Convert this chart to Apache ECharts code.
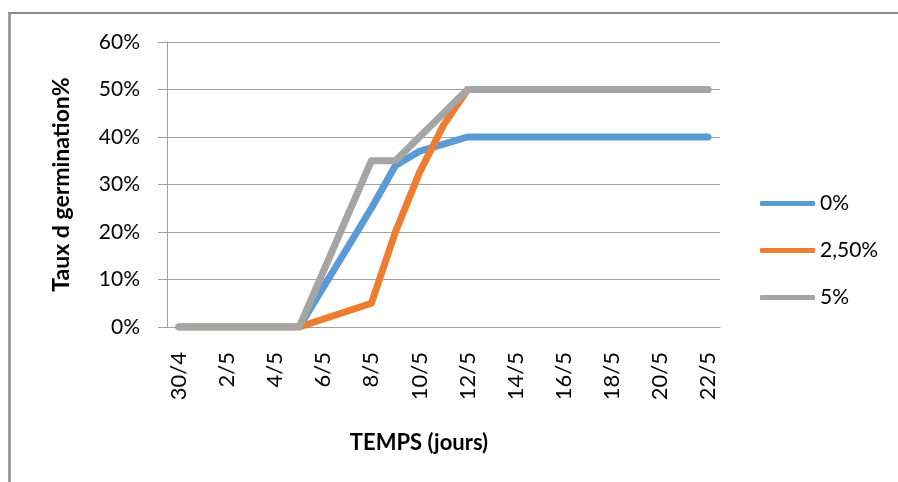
<!DOCTYPE html>
<html>
<head>
<meta charset="utf-8">
<script src="https://cdn.jsdelivr.net/npm/echarts@6/dist/echarts.min.js"></script>
<style>
html,body{margin:0;padding:0;background:#fff;}
#c{width:898px;height:482px;}
</style>
</head>
<body>
<div id="c"></div>
<script>
// Categories: daily dates from 30/4 to 22/5
const categories = ['30/4','1/5','2/5','3/5','4/5','5/5','6/5','7/5','8/5','9/5','10/5','11/5','12/5','13/5','14/5','15/5','16/5','17/5','18/5','19/5','20/5','21/5','22/5'];
const seriesNames = ['0%', '2,50%', '5%'];
// germination rate (fraction) — null = no reading that day
const s0 = [0, null, null, null, null, 0, null, null, 0.25, 0.34, 0.37, 0.385, 0.40, null, null, null, null, null, null, null, null, null, 0.40];
const s25 = [0, null, null, null, null, 0, null, null, 0.05, 0.20, 0.325, 0.425, 0.50, null, null, null, null, null, null, null, null, null, 0.50];
const s5 = [0, null, null, null, null, 0, null, null, 0.35, 0.35, null, null, 0.50, null, null, null, null, null, null, null, null, null, 0.50];
const yTicks = [0, 0.1, 0.2, 0.3, 0.4, 0.5, 0.6];
const colors = ['#5b9bd5', '#ed7d31', '#a5a5a5'];
const FONT = 'Lato';

const chart = echarts.init(document.getElementById('c'), null, {renderer: 'canvas'});
const mk = (name, data, color) => ({
  name, type: 'line', data, connectNulls: true, showSymbol: false, symbol: 'none',
  lineStyle: {color, width: 7, cap: 'round', join: 'round'},
  itemStyle: {color}, animation: false
});
chart.setOption({
  animation: false,
  backgroundColor: '#fff',
  textStyle: {fontFamily: FONT},
  title: {
    text: 'TEMPS (jours)', left: 414, top: 427, textAlign: 'center',
    textStyle: {fontFamily: FONT, fontWeight: 'bold', fontSize: 22, color: '#000'}
  },
  graphic: [
    {type: 'line', shape: {x1: 8, y1: 13, x2: 898, y2: 13}, style: {stroke: '#8c8c8c', lineWidth: 2}},
    {type: 'line', shape: {x1: 9.5, y1: 12, x2: 9.5, y2: 482}, style: {stroke: '#8c8c8c', lineWidth: 2.5}}
  ],
  grid: {left: 167, right: 178, top: 42, bottom: 155, containLabel: false},
  legend: {
    orient: 'vertical', left: 760, top: 193, itemGap: 26, padding: 0,
    itemWidth: 55, itemHeight: 5, icon: 'roundRect',
    textStyle: {fontFamily: FONT, fontSize: 21, color: '#000'},
    data: seriesNames
  },
  xAxis: {
    type: 'category', data: categories, boundaryGap: true,
    axisLine: {show: true, lineStyle: {color: '#a0a0a0', width: 1}},
    axisTick: {show: false},
    axisLabel: {interval: 1, rotate: 90, margin: 25, fontFamily: FONT, fontSize: 22, color: '#000'}
  },
  yAxis: {
    type: 'value', min: yTicks[0], max: yTicks[yTicks.length - 1], interval: 0.1,
    name: 'Taux d germination%', nameLocation: 'middle', nameGap: 94,
    nameTextStyle: {fontFamily: FONT, fontWeight: 'bold', fontSize: 23, color: '#000'},
    axisLine: {show: true, lineStyle: {color: '#a0a0a0', width: 1}},
    axisTick: {show: true, inside: false, length: 9, lineStyle: {color: '#a0a0a0'}},
    splitLine: {show: true, lineStyle: {color: '#a0a0a0', width: 1}},
    axisLabel: {margin: 27, fontFamily: FONT, fontSize: 21, color: '#000',
      formatter: v => Math.round(v * 100) + '%'}
  },
  series: [mk(seriesNames[0], s0, colors[0]), mk(seriesNames[1], s25, colors[1]), mk(seriesNames[2], s5, colors[2])]
});
</script>
</body>
</html>
